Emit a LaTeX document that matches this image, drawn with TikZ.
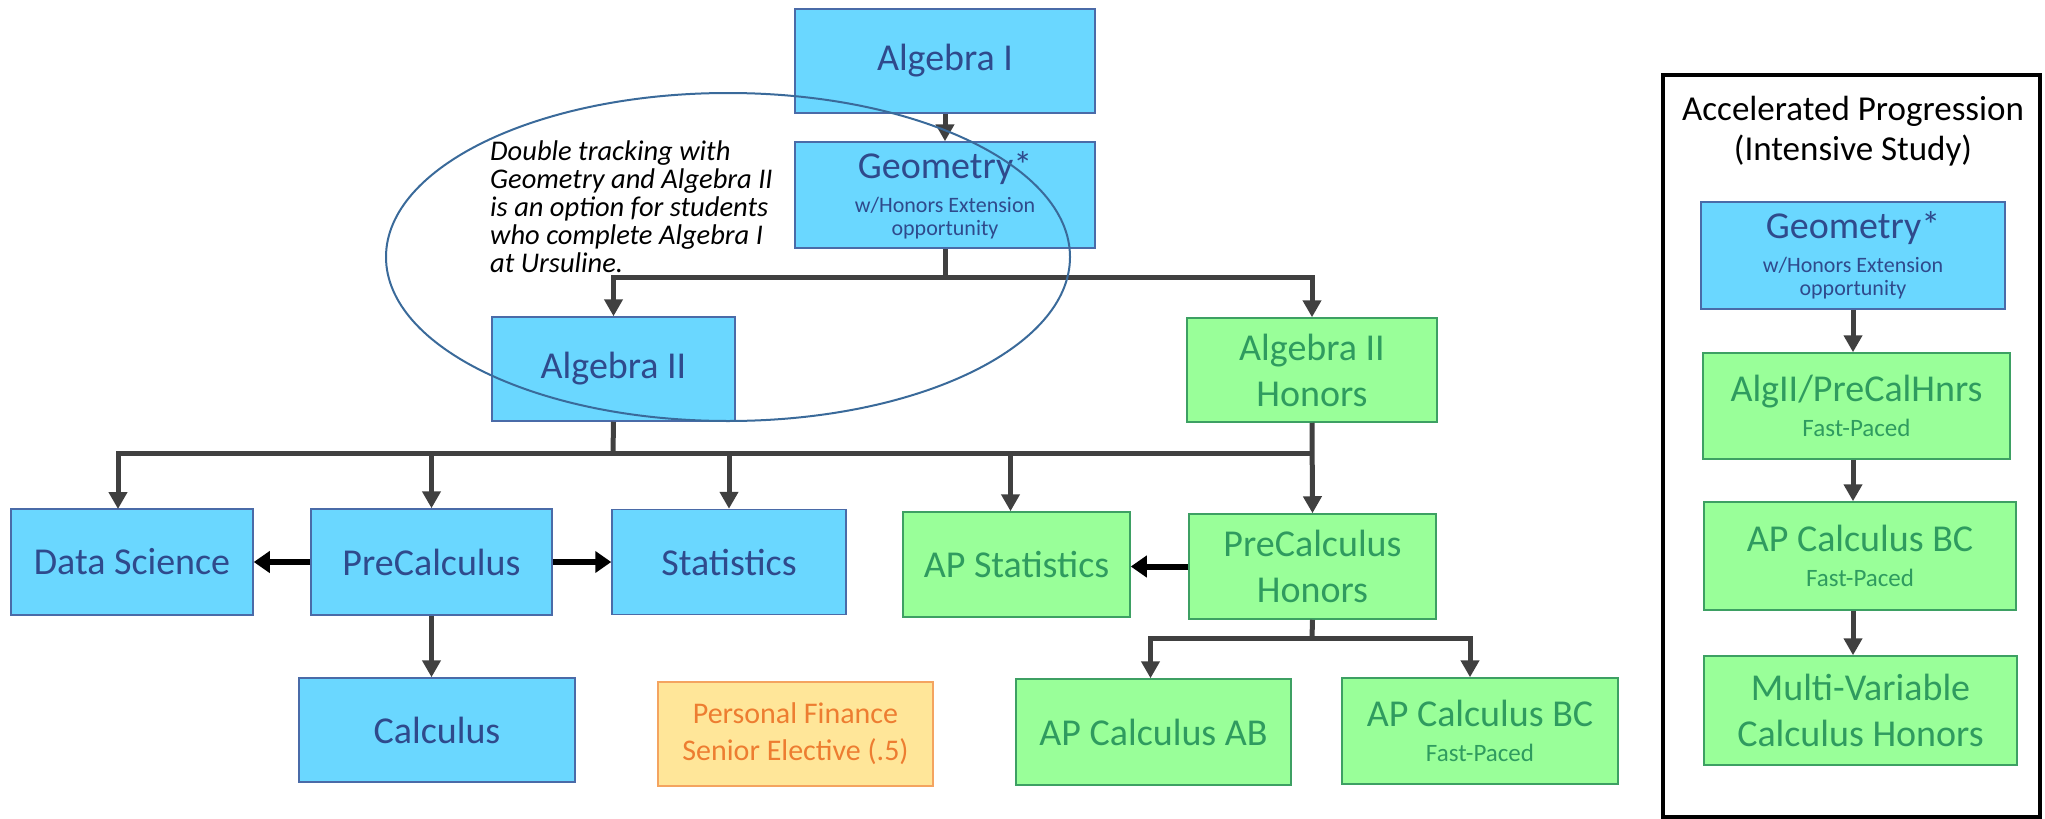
\documentclass[tikz,border=0pt]{standalone}
\usepackage{fontspec}
\setmainfont{Carlito}
\usetikzlibrary{arrows.meta}
\definecolor{bfill}{HTML}{6AD7FF}
\definecolor{bdraw}{HTML}{4A6BA8}
\definecolor{btext}{HTML}{2F4A8C}
\definecolor{gfill}{HTML}{99FF99}
\definecolor{gdraw}{HTML}{3DA063}
\definecolor{gtext}{HTML}{2F9B5F}
\definecolor{ofill}{HTML}{FFE699}
\definecolor{odraw}{HTML}{F4A460}
\definecolor{otext}{HTML}{ED7D31}
\definecolor{conncol}{HTML}{404040}
\definecolor{ellcol}{HTML}{3A6A9A}
\begin{document}
\begin{tikzpicture}[x=1pt,y=-1pt,
  box/.style={rectangle, inner sep=2pt, align=center, line width=1.5pt},
  bluebox/.style={box, fill=bfill, draw=bdraw, text=btext},
  greenbox/.style={box, fill=gfill, draw=gdraw, text=gtext},
  orangebox/.style={box, fill=ofill, draw=odraw, text=otext},
  big/.style={font=\fontsize{38}{46}\selectfont},
  conn/.style={draw=conncol, line width=5pt},
  arr/.style={conn, -{Triangle[width=18pt,length=17pt]}},
  harr/.style={draw=black, line width=6pt, -{Triangle[width=21pt,length=16pt]}},
]
\useasboundingbox (0,0) rectangle (2045,819);

% main boxes
\node[bluebox, big, minimum width=300, minimum height=104] (alg1) at (945,61) {Algebra I};
\node[bluebox, font=\fontsize{22}{34}\selectfont, minimum width=300, minimum height=106] (geo) at (945,195)
  {{\fontsize{38}{46}\selectfont Geometry*}\\w/Honors Extension\\[-11pt]opportunity};
\node[bluebox, big, minimum width=243, minimum height=104] (alg2) at (613.5,369) {Algebra II};
\node[greenbox, big, minimum width=250, minimum height=104] (alg2h) at (1312,370) {Algebra II\\Honors};
\node[bluebox, big, minimum width=242, minimum height=106] (ds) at (132,562) {Data Science};
\node[bluebox, big, minimum width=241, minimum height=106] (pc) at (431.5,562) {PreCalculus};
\node[bluebox, big, minimum width=234, minimum height=105] (stat) at (729,562) {Statistics};
\node[greenbox, big, minimum width=227, minimum height=105] (aps) at (1016.5,564.5) {AP Statistics};
\node[greenbox, big, minimum width=247, minimum height=105] (pch) at (1312.5,566.5) {PreCalculus\\Honors};
\node[bluebox, big, minimum width=276, minimum height=104] (calc) at (437,730) {Calculus};
\node[orangebox, font=\fontsize{30}{37}\selectfont, minimum width=275, minimum height=104] (pf) at (795.5,734)
  {Personal Finance\\Senior Elective (.5)};
\node[greenbox, big, minimum width=275, minimum height=106] (apab) at (1153.5,732) {AP Calculus AB};
\node[greenbox, font=\fontsize{25}{35}\selectfont, minimum width=276, minimum height=106] (apbc) at (1480,731)
  {{\fontsize{38}{46}\selectfont AP Calculus BC}\\Fast-Paced};

% note
\node[anchor=north west, inner sep=0pt, align=left, font=\itshape\fontsize{28.5}{28}\selectfont] (note) at (490,141)
  {Double tracking with\\Geometry and Algebra II\\is an option for students\\who complete Algebra I\\at Ursuline.};

% connectors
\coordinate (j1) at (945,277);
\draw[arr] (alg1.south) -- (geo.north);
\draw[conn] (geo.south) -- (j1);
\draw[arr] (j1) -| (alg2.north);
\draw[arr] (j1) -| (alg2h.north);

\coordinate (j2) at (613,453);
\coordinate (j3) at (1312,453);
\coordinate (dsin) at (118,509);
\draw[conn] (alg2.south) -- (j2);
\draw[conn] (j2) -- (j3);
\draw[arr] (alg2h.south) -- (pch.north);
\draw[arr] (j2) -| (dsin);
\draw[arr] (j2) -| (pc.north);
\draw[arr] (j2) -| (stat.north);
\draw[arr] (j3) -| ([xshift=-6pt]aps.north);

\draw[harr] (pc.west) -- (ds.east);
\draw[harr] (pc.east) -- (stat.west);
\draw[harr] (pch.west) -- (pch.west -| aps.east);
\draw[arr] (pc.south) -- (pc.south |- calc.north);

\coordinate (j4) at (1312,638);
\draw[conn] (pch.south) -- (j4);
\draw[arr] (j4) -| ([xshift=-3pt]apab.north);
\draw[arr] (j4) -| ([xshift=-10pt]apbc.north);

% ellipse
\draw[ellcol, line width=2pt] (728,257) ellipse [x radius=342, y radius=164];

% right panel
\draw[black, line width=4pt] (1663,75) rectangle (2040,817);
\node[anchor=north, inner sep=0pt, align=center, font=\fontsize{35}{40}\selectfont] (title) at (1853,96)
  {Accelerated Progression\\(Intensive Study)};
\node[bluebox, font=\fontsize{22}{34}\selectfont, minimum width=304, minimum height=107] (geo2) at (1853,255.5)
  {{\fontsize{38}{46}\selectfont Geometry*}\\w/Honors Extension\\[-11pt]opportunity};
\node[greenbox, font=\fontsize{25}{35}\selectfont, minimum width=307, minimum height=106] (acc1) at (1856.5,406)
  {{\fontsize{38}{46}\selectfont AlgII/PreCalHnrs}\\Fast-Paced};
\node[greenbox, font=\fontsize{25}{35}\selectfont, minimum width=312, minimum height=108] (acc2) at (1860,556)
  {{\fontsize{38}{46}\selectfont AP Calculus BC}\\Fast-Paced};
\node[greenbox, big, minimum width=313, minimum height=109] (acc3) at (1860.5,710.5)
  {Multi-Variable\\Calculus Honors};
\draw[arr] (geo2.south) -- (geo2.south |- acc1.north);
\draw[arr] (acc1.south -| geo2.south) -- (acc2.north -| geo2.south);
\draw[arr] (acc2.south -| geo2.south) -- (acc3.north -| geo2.south);
\end{tikzpicture}
\end{document}
